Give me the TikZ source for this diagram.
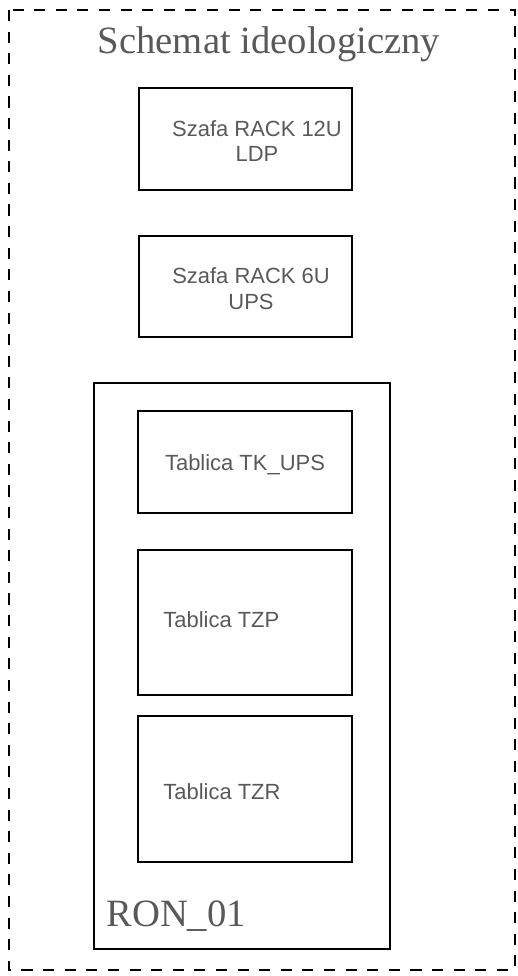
\documentclass[tikz,border=0pt]{standalone}
\usepackage{fontspec}
\setmainfont{Liberation Serif}
\newfontfamily\arialfont{Liberation Sans}
\usepackage{tikz}
\usetikzlibrary{fit,positioning}
\definecolor{txtgray}{HTML}{595959}

\begin{document}
\begin{tikzpicture}[x=0.02cm,y=-0.02cm,
	box/.style={draw,line width=0.7pt,inner sep=0pt},
	lbl/.style={font=\arialfont\fontsize{12.5}{14.7}\selectfont,text=txtgray,inner sep=0pt,align=center},
	bigtxt/.style={font=\fontsize{22}{26}\selectfont,text=txtgray,inner sep=0pt}]
	\useasboundingbox (0,0) rectangle (517,976);
	% Draw dashed frame and title
	\draw [line width=0.85pt,dash pattern=on 6.3pt off 6pt] (9,10) rectangle (515,970);
	\node [bigtxt,anchor=base] (title) at (269,54) {Schemat ideologiczny};
	% Draw the two racks
	\node [box,fit={(139,88) (352,190)}] (ldp) {};
	\node [lbl] (ldptxt) at (257,141) {Szafa RACK 12U\\LDP};
	\node [box,fit={(139,236) (352,337)}] (ups) {};
	\node [lbl] (upstxt) at (251,289) {Szafa RACK 6U\\UPS};
	% Draw the RON_01 enclosure with its boards
	\node [box,fit={(94,383) (390,949)}] (ron) {};
	\node [bigtxt,anchor=base west] (rontxt) at (106,926) {RON\_01};
	\node [box,fit={(138,411) (352,513)}] (tkups) {};
	\node [lbl] (tkupstxt) at (245,465) {Tablica TK\_UPS};
	\node [box,fit={(138,550) (352,695)}] (tzp) {};
	\node [lbl,anchor=west] (tzptxt) at (163,620) {Tablica TZP};
	\node [box,fit={(138,716) (352,862)}] (tzr) {};
	\node [lbl,anchor=west] (tzrtxt) at (163,792) {Tablica TZR};
\end{tikzpicture}
\end{document}
